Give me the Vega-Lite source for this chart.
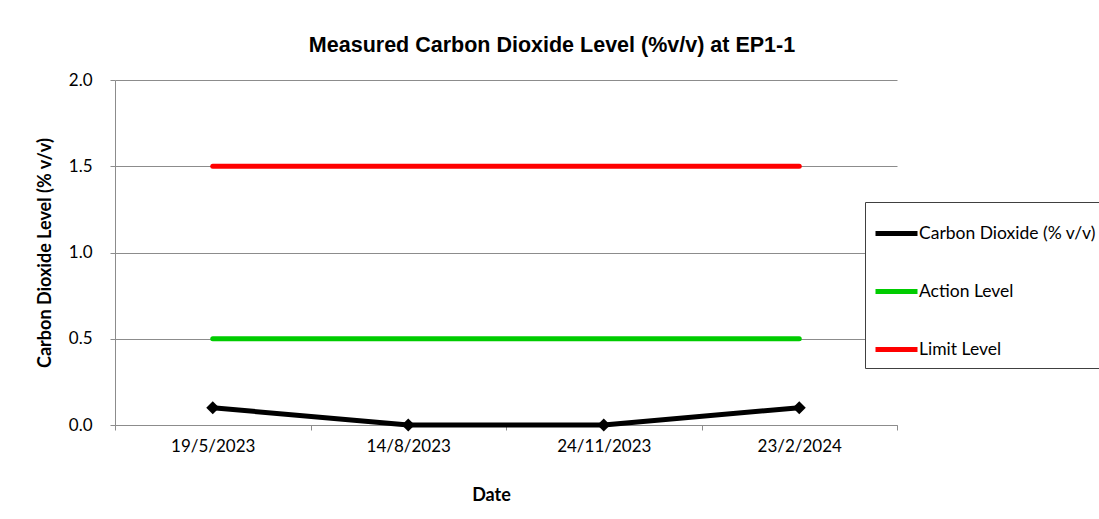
{
  "$schema": "https://vega.github.io/schema/vega-lite/v6.json",
  "width": 782,
  "height": 345,
  "autosize": {"type": "none"},
  "padding": {"left": 115, "top": 80, "right": 202, "bottom": 94},
  "background": "white",
  "title": {
    "text": "Measured Carbon Dioxide Level (%v/v) at EP1-1",
    "font": "Liberation Sans",
    "fontSize": 21.5,
    "fontWeight": "bold",
    "color": "black",
    "anchor": "middle",
    "dx": 46,
    "offset": 15
  },
  "config": {
    "view": {"stroke": null},
    "axis": {
      "labelFont": "Lato",
      "labelFontSize": 17,
      "labelColor": "black",
      "titleFont": "Lato",
      "titleFontSize": 18,
      "titleFontWeight": "bold",
      "titleColor": "black",
      "domainColor": "#8c8c8c",
      "tickColor": "#8c8c8c",
      "gridColor": "#8c8c8c",
      "tickSize": 5
    }
  },
  "data": {
    "values": [
      {"date": "19/5/2023", "series": "Carbon Dioxide (% v/v)", "value": 0.1},
      {"date": "14/8/2023", "series": "Carbon Dioxide (% v/v)", "value": 0.0},
      {"date": "24/11/2023", "series": "Carbon Dioxide (% v/v)", "value": 0.0},
      {"date": "23/2/2024", "series": "Carbon Dioxide (% v/v)", "value": 0.1},
      {"date": "19/5/2023", "series": "Action Level", "value": 0.5},
      {"date": "14/8/2023", "series": "Action Level", "value": 0.5},
      {"date": "24/11/2023", "series": "Action Level", "value": 0.5},
      {"date": "23/2/2024", "series": "Action Level", "value": 0.5},
      {"date": "19/5/2023", "series": "Limit Level", "value": 1.5},
      {"date": "14/8/2023", "series": "Limit Level", "value": 1.5},
      {"date": "24/11/2023", "series": "Limit Level", "value": 1.5},
      {"date": "23/2/2024", "series": "Limit Level", "value": 1.5}
    ]
  },
  "encoding": {
    "x": {
      "field": "date",
      "type": "nominal",
      "sort": ["19/5/2023", "14/8/2023", "24/11/2023", "23/2/2024"],
      "scale": {"type": "band", "paddingInner": 0, "paddingOuter": 0},
      "axis": {
        "title": "Date",
        "labelAngle": 0,
        "tickBand": "extent",
        "labelPadding": 8,
        "titlePadding": 32,
        "titleX": 376,
        "grid": false
      }
    },
    "y": {
      "field": "value",
      "type": "quantitative",
      "scale": {"domain": [0, 2]},
      "axis": {
        "title": "Carbon Dioxide Level (% v/v)",
        "values": [0, 0.5, 1, 1.5, 2],
        "format": ".1f",
        "grid": true,
        "labelPadding": 18,
        "titlePadding": 14
      }
    }
  },
  "layer": [
    {
      "mark": {"type": "line", "strokeWidth": 5, "strokeCap": "round", "strokeJoin": "round"},
      "encoding": {
        "color": {
          "field": "series",
          "type": "nominal",
          "sort": ["Carbon Dioxide (% v/v)", "Action Level", "Limit Level"],
          "scale": {
            "domain": ["Carbon Dioxide (% v/v)", "Action Level", "Limit Level"],
            "range": ["#000000", "#00cc00", "#ff0000"]
          },
          "legend": {
            "title": null,
            "orient": "none",
            "legendX": 750,
            "legendY": 122,
            "padding": 8,
            "strokeColor": "#404040",
            "fillColor": "white",
            "symbolType": "stroke",
            "symbolSize": 1764,
            "symbolStrokeWidth": 5,
            "rowPadding": 24,
            "labelOffset": -1,
            "labelFont": "Lato",
            "labelFontSize": 17.5,
            "labelColor": "black",
            "labelLimit": 300
          }
        }
      }
    },
    {
      "transform": [{"filter": "datum.series === 'Carbon Dioxide (% v/v)'"}],
      "mark": {"type": "point", "shape": "diamond", "filled": true, "size": 170, "color": "black", "opacity": 1}
    }
  ]
}
